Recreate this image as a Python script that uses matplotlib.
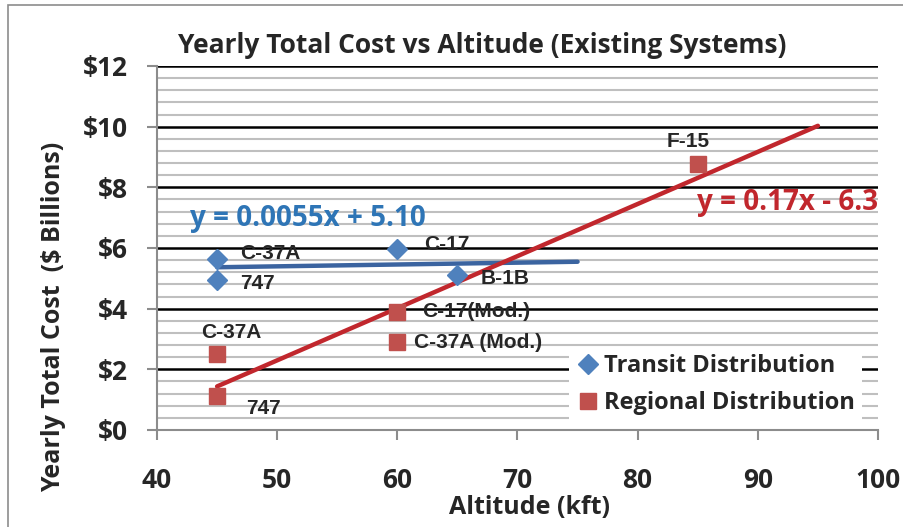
import matplotlib.pyplot as plt
import numpy as np
from matplotlib.ticker import MultipleLocator
from matplotlib.patches import Rectangle

# transit distribution points
transit_x = [45, 45, 60, 65]
transit_y = [5.65, 4.95, 5.97, 5.1]
transit_names = ['C-37A', '747', 'C-17', 'B-1B']

# regional distribution points
regional_x = [45, 45, 60, 60, 85]
regional_y = [2.52, 1.12, 3.9, 2.9, 8.77]
regional_names = ['C-37A', '747', 'C-17(Mod.)', 'C-37A (Mod.)', 'F-15']

transit_range = [45, 75]
regional_range = [45, 95]

blue = '#4F81BD'
red = '#C0504D'
txt = '#262626'
FONT = 'Open Sans'

fig = plt.figure(figsize=(9.04, 5.27), dpi=100)
ax = fig.add_axes([0.1737, 0.1841, 0.7975, 0.6907])

# outer chart border
fig.patches.append(Rectangle((8/904, -0.1), 1.2, 1.1 - 5/527, transform=fig.transFigure,
                             fill=False, edgecolor='#8C8C8C', lw=1.2))

ax.set_xlim(40, 100)
ax.set_ylim(0, 12)
ax.set_xticks(range(40, 101, 10))
ax.set_yticks(range(0, 13, 2))
ax.yaxis.set_minor_locator(MultipleLocator(0.4))
ax.set_yticklabels(['$%d' % v for v in range(0, 13, 2)])

ax.grid(which='minor', axis='y', color='#BFBFBF', lw=1.5, zorder=0)
ax.grid(which='major', axis='y', color='black', lw=1.8, zorder=1)
ax.set_axisbelow(True)

for s in ['top', 'right']:
    ax.spines[s].set_visible(False)
ax.spines['left'].set_color('#8C8C8C')
ax.spines['bottom'].set_color('#8C8C8C')
ax.spines['left'].set_linewidth(1.5)
ax.spines['bottom'].set_linewidth(1.5)
ax.tick_params(which='major', length=7, width=1.5, color='#8C8C8C')
ax.tick_params(which='minor', length=0)
ax.tick_params(axis='y', pad=14)
ax.tick_params(axis='x', pad=20)
for lab in ax.get_xticklabels() + ax.get_yticklabels():
    lab.set_fontfamily(FONT)
    lab.set_fontweight('bold')
    lab.set_fontsize(19)
    lab.set_color(txt)

# trend lines fitted from the points
tb = np.polyfit(transit_x, transit_y, 1)
rb = np.polyfit(regional_x, regional_y, 1)
tx = np.array(transit_range)
rx = np.array(regional_range)
ax.plot(tx, np.polyval(tb, tx), color='#3B64A0', lw=3.2, solid_capstyle='round', zorder=3)
ax.plot(rx, np.polyval(rb, rx), color='#C1272D', lw=3.2, solid_capstyle='round', zorder=4)

ax.plot(transit_x, transit_y, 'D', color=blue, ms=10.5, ls='none', zorder=5,
        label='Transit Distribution')
ax.plot(regional_x, regional_y, 's', color=red, ms=12, ls='none', zorder=5,
        label='Regional Distribution')

# point labels
lf = dict(fontfamily='Liberation Sans', fontweight='bold', fontsize=15, color=txt, zorder=6)
toff = [(16.5, 4), (16.5, -3), (19, 3), (17, -2)]
for x, y, n, o in zip(transit_x, transit_y, transit_names, toff):
    ax.annotate(n, (x, y), xytext=o, textcoords='offset points', va='center', ha='left', **lf)
roff = [(10, 15), (21, -9), (18, 0), (12, 0), (-7, 16)]
rha = ['center', 'left', 'left', 'left', 'center']
for x, y, n, o, h in zip(regional_x, regional_y, regional_names, roff, rha):
    ax.annotate(n, (x, y), xytext=o, textcoords='offset points', va='center', ha=h, **lf)

ax.text(42.75, 6.97, 'y = 0.0055x + 5.10', color='#2E75B6', fontsize=20,
        fontfamily=FONT, fontweight='bold', va='center', ha='left')
ax.text(100, 7.5, 'y = 0.17x - 6.3', color='#C1272D', fontsize=20,
        fontfamily=FONT, fontweight='bold', va='center', ha='right')

leg = ax.legend(loc='upper left', bbox_to_anchor=(0.555, 0.26, 0.445, 0.0), frameon=True,
                framealpha=1, edgecolor='none', fancybox=False, handletextpad=0.2,
                handlelength=1.0, borderpad=0.3, labelspacing=0.55,
                prop=dict(family=FONT, weight='bold', size=17))
for t in leg.get_texts():
    t.set_color(txt)
leg.set_zorder(7)

fig.text(482/904, 1 - 45/527, 'Yearly Total Cost vs Altitude (Existing Systems)',
         ha='center', va='center', fontsize=19, fontfamily=FONT, fontweight='bold', color=txt)
ax.set_xlabel('Altitude (kft)', fontsize=18, fontfamily=FONT, fontweight='bold', color=txt)
ax.xaxis.set_label_coords((530 - 157) / 721, -(508 - 430) / 364)
ax.xaxis.label.set_va('center')
ax.set_ylabel('Yearly Total Cost  ($ Billions)', fontsize=18, fontfamily=FONT, fontweight='bold',
              color=txt)
ax.yaxis.set_label_coords((54 - 157) / 721, (430 - 317) / 364)
ax.yaxis.label.set_va('center')

fig.savefig('out.png', dpi=100)
